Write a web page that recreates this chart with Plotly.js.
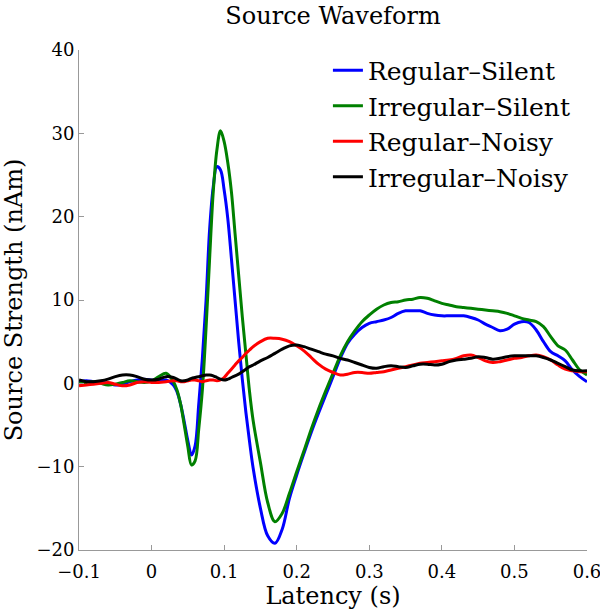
<!DOCTYPE html>
<html>
<head>
<meta charset="utf-8">
<script src="https://cdn.plot.ly/plotly-3.0.1.min.js"></script>
<style>html,body{margin:0;padding:0;background:#fff;}#chart{width:600px;height:612px;}</style>
</head>
<body>
<div id="chart"></div>
<script>
const latency = [-0.1,-0.09,-0.08,-0.07,-0.06,-0.05,-0.04,-0.03,-0.02,-0.01,0,0.01,0.02,0.03,
0.035,0.04,0.045,0.05,0.055,0.06,0.065,0.07,0.075,0.08,0.085,0.09,0.095,0.1,0.105,0.11,0.115,0.12,0.125,0.13,0.135,0.14,
0.15,0.16,0.17,0.18,0.19,0.2,0.21,0.22,0.23,0.24,0.25,0.26,0.27,0.28,0.29,0.3,0.31,0.32,0.33,0.34,0.35,0.36,0.37,0.38,0.39,
0.4,0.41,0.42,0.43,0.44,0.45,0.46,0.47,0.48,0.49,0.5,0.51,0.52,0.53,0.54,0.55,0.56,0.57,0.58,0.59,0.6];

const regularSilent = [0.2,0.3,0.2,0.1,0.0,-0.2,-0.1,0.2,0.4,0.5,0.4,0.3,0.4,-0.2,
-1.0,-2.5,-4.6,-6.9,-8.6,-7.5,-2.5,3.0,9.8,18.5,23.6,26.0,25.6,23.2,19.8,15.0,10.0,5.0,0.5,-3.5,-7.0,-10.2,
-15.0,-18.3,-19.2,-17.5,-13.8,-11.0,-8.4,-5.9,-3.6,-1.4,0.8,3.0,4.8,5.9,6.7,7.2,7.4,7.6,7.9,8.4,8.7,8.7,8.7,8.4,8.2,
8.1,8.1,8.1,8.1,7.9,7.6,7.1,6.7,6.3,6.5,7.1,7.4,7.3,6.4,5.0,3.8,3.3,2.7,1.6,0.8,0.2];

const irregularSilent = [0.0,0.1,0.2,0.0,-0.2,-0.1,0.1,0.3,0.2,0.1,0.3,0.8,1.2,0.2,
-0.8,-2.5,-5.0,-7.6,-9.8,-9.3,-5.5,-0.8,6.5,15.0,23.0,28.0,30.3,29.0,26.5,23.0,18.0,13.0,8.0,3.5,-1.0,-4.5,
-9.5,-14.3,-16.6,-15.6,-13.2,-10.6,-8.1,-5.5,-3.1,-0.9,1.2,3.3,5.0,6.3,7.4,8.2,8.9,9.4,9.7,9.8,10.0,10.1,10.3,10.2,9.9,
9.6,9.4,9.2,9.1,9.0,8.9,8.8,8.7,8.6,8.4,8.1,7.8,7.6,7.4,6.8,5.6,4.5,4.0,2.8,1.6,1.0];

const regularNoisy = [-0.3,-0.2,-0.1,0.0,0.1,-0.1,-0.3,-0.2,0.1,0.2,0.1,0.1,0.2,0.3,
0.3,0.2,0.2,0.3,0.4,0.4,0.3,0.2,0.3,0.4,0.4,0.3,0.4,0.7,1.2,1.7,2.2,2.7,3.1,3.6,4.0,4.4,
5.0,5.4,5.4,5.3,5.0,4.5,3.9,3.1,2.3,1.7,1.3,1.0,1.1,1.3,1.3,1.2,1.3,1.4,1.6,1.8,2.0,2.2,2.4,2.5,2.6,
2.7,2.8,3.0,3.3,3.4,3.1,2.7,2.5,2.6,2.8,3.0,3.1,3.3,3.4,3.2,2.8,2.2,1.7,1.5,1.4,1.4];

const irregularNoisy = [0.4,0.2,0.2,0.3,0.5,0.8,1.0,1.0,0.8,0.5,0.4,0.5,0.8,0.7,
0.5,0.3,0.3,0.4,0.6,0.7,0.8,0.9,1.0,1.0,0.9,0.7,0.5,0.4,0.5,0.7,0.9,1.1,1.4,1.7,2.0,2.2,
2.7,3.1,3.6,4.1,4.5,4.6,4.4,4.1,3.8,3.5,3.3,3.0,2.8,2.5,2.2,1.9,1.8,2.0,2.1,2.0,1.9,2.1,2.3,2.3,2.2,
2.3,2.6,2.8,2.9,3.0,3.2,3.1,2.9,3.0,3.2,3.3,3.3,3.3,3.3,3.1,2.8,2.4,2.0,1.6,1.5,1.5];

const xTickVals = [-0.1, 0, 0.1, 0.2, 0.3, 0.4, 0.5, 0.6];
const xTickText = ['\u22120.1', '0', '0.1', '0.2', '0.3', '0.4', '0.5', '0.6'];
const yTickVals = [-20, -10, 0, 10, 20, 30, 40];
const yTickText = ['\u221220', '\u221210', '0', '10', '20', '30', '40'];

const seriesNames = ['Regular\u2013Silent','Irregular\u2013Silent','Regular\u2013Noisy','Irregular\u2013Noisy'];
const seriesColors = ['#0000ff','#008000','#ff0000','#000000'];
const seriesValues = [regularSilent, irregularSilent, regularNoisy, irregularNoisy];

const FONT = 'DejaVu Serif, Liberation Serif, serif';

const traces = seriesValues.map((vals, i) => ({
  x: latency, y: vals, type: 'scatter', mode: 'lines', name: seriesNames[i],
  line: {color: seriesColors[i], width: 3, shape: 'spline', smoothing: 1}
}));

const layout = {
  width: 600, height: 612,
  margin: {l: 79, r: 13, t: 50, b: 62},
  paper_bgcolor: '#fff', plot_bgcolor: '#fff',
  font: {family: FONT, color: '#000', size: 18},
  title: {text: 'Source Waveform', font: {family: FONT, size: 24, color: '#000'},
          x: 0.555, xanchor: 'center', y: 0.974, yanchor: 'middle'},
  showlegend: true,
  legend: {x: 0.49, y: 1.005, xanchor: 'left', yanchor: 'top',
           bgcolor: 'rgba(0,0,0,0)', borderwidth: 0,
           font: {family: FONT, size: 25, color: '#000'}},
  xaxis: {range: [-0.1, 0.6], tickmode: 'array', tickvals: xTickVals, ticktext: xTickText,
          showgrid: false, zeroline: false,
          showline: true, linecolor: '#999', linewidth: 1, mirror: false,
          ticks: 'inside', ticklen: 5, tickcolor: '#999', ticklabelstandoff: 5,
          ticklabeloverflow: 'allow',
          tickfont: {family: FONT, size: 18, color: '#000'},
          title: {text: 'Latency (s)', font: {family: FONT, size: 24, color: '#000'}, standoff: 2}},
  yaxis: {range: [-20, 40], tickmode: 'array', tickvals: yTickVals, ticktext: yTickText,
          showgrid: false, zeroline: false,
          showline: true, linecolor: '#999', linewidth: 1, mirror: false,
          ticks: 'inside', ticklen: 5, tickcolor: '#999',
          tickfont: {family: FONT, size: 18, color: '#000'},
          title: {text: 'Source Strength (nAm)', font: {family: FONT, size: 24, color: '#000'}, standoff: 10}}
};

Plotly.newPlot('chart', traces, layout, {displayModeBar: false, staticPlot: true});
</script>
</body>
</html>
